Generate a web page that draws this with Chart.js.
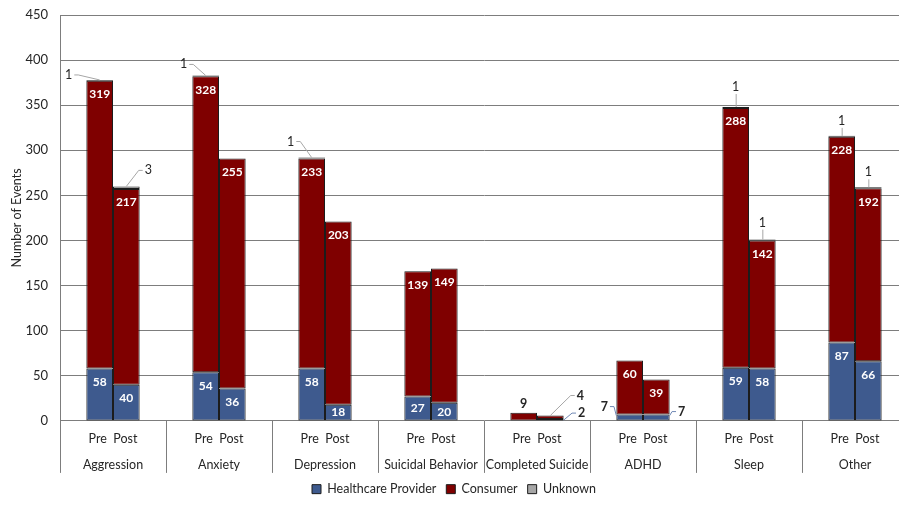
<!DOCTYPE html>
<html><head><meta charset="utf-8">
<script src="https://cdn.jsdelivr.net/npm/chart.js@4/dist/chart.umd.min.js"></script>
<style>html,body{margin:0;padding:0;background:#fff;overflow:hidden}#wrap{width:910px;height:509px;position:relative}</style>
</head><body><div id="wrap"><canvas id="c"></canvas></div>
<script>
const categories = ['Aggression','Anxiety','Depression','Suicidal Behavior','Completed Suicide','ADHD','Sleep','Other'];
const periods = ['Pre','Post'];
const seriesNames = ['Healthcare Provider','Consumer','Unknown'];
const providerPre  = [58, 54, 58, 27, 0, 7, 59, 87];
const providerPost = [40, 36, 18, 20, 2, 7, 58, 66];
const consumerPre  = [319, 328, 233, 139, 9, 60, 288, 228];
const consumerPost = [217, 255, 203, 149, 4, 39, 142, 192];
const unknownPre   = [1, 1, 1, 0, 0, 0, 1, 1];
const unknownPost  = [3, 0, 0, 0, 0, 0, 1, 1];
const yTickValues  = [0, 50, 100, 150, 200, 250, 300, 350, 400, 450];

const FONT = 'Lato, "Open Sans", sans-serif';
const COLORS = ['#3e5a8e', '#7f0000', '#a6a6a6'];
const GRID = '#7d7d7d';
const TEXT = '#262626';

function mk(si, data, stack) {
  return {
    label: seriesNames[si], series: si,
    data: data.map(v => v === 0 ? null : v),
    backgroundColor: COLORS[si], borderColor: '#1c1c1c', borderWidth: 1,
    borderSkipped: false, stack: stack,
    categoryPercentage: 0.503, barPercentage: 1
  };
}
const datasets = [
  mk(0, providerPre, periods[0]), mk(1, consumerPre, periods[0]), mk(2, unknownPre, periods[0]),
  mk(0, providerPost, periods[1]), mk(1, consumerPost, periods[1]), mk(2, unknownPost, periods[1])
];

// callout label styling (category index, period, series index)
const callouts = [
  {c:0, p:'Pre',  s:2, anchor:'top',   dx:-31, dy:-5,  side:'left'},
  {c:0, p:'Post', s:2, anchor:'top',   dx:22,  dy:-16, side:'right'},
  {c:1, p:'Pre',  s:2, anchor:'top',   dx:-22, dy:-11, side:'left'},
  {c:2, p:'Pre',  s:2, anchor:'top',   dx:-21, dy:-16, side:'left'},
  {c:6, p:'Pre',  s:2, anchor:'top',   dx:0,   dy:-20, side:'top'},
  {c:6, p:'Post', s:2, anchor:'top',   dx:0,   dy:-17, side:'top'},
  {c:7, p:'Pre',  s:2, anchor:'top',   dx:0,   dy:-15, side:'top'},
  {c:7, p:'Post', s:2, anchor:'top',   dx:0,   dy:-15, side:'top'},
  {c:4, p:'Pre',  s:1, anchor:'top',   dx:0,   dy:-9,  side:'none', bold:true},
  {c:4, p:'Post', s:1, anchor:'top',   dx:30,  dy:-20, side:'right', bold:true},
  {c:4, p:'Post', s:0, anchor:'right', dx:18,  dy:-7,  side:'right', bold:true},
  {c:5, p:'Pre',  s:0, anchor:'left',  dx:-12, dy:-9,  side:'left', bold:true},
  {c:5, p:'Post', s:0, anchor:'right', dx:12,  dy:-4,  side:'right', bold:true}
];

const labelPlugin = {
  id: 'barLabels',
  afterDatasetsDraw(chart) {
    const ctx = chart.ctx;
    ctx.save();
    chart.data.datasets.forEach((ds, di) => {
      const meta = chart.getDatasetMeta(di);
      meta.data.forEach((el, i) => {
        const v = ds.data[i];
        if (v == null) return;
        const p = el.getProps(['x','y','base','width'], true);
        const top = Math.min(p.y, p.base), bot = Math.max(p.y, p.base);
        const co = callouts.find(o => o.c === i && o.p === ds.stack && o.s === ds.series);
        if (co) {
          let ax = p.x, ay = top;
          if (co.anchor === 'left') { ax = p.x - p.width/2; ay = top + 1; }
          if (co.anchor === 'right') { ax = p.x + p.width/2; ay = top + 1; }
          const lx = ax + co.dx, ly = ay + co.dy;
          ctx.font = (co.bold ? 'bold ' : '') + '12.5px ' + FONT;
          const tw = ctx.measureText(String(v)).width;
          ctx.strokeStyle = ds.series === 0 ? '#6f88b5' : '#a6a6a6';
          ctx.lineWidth = 1;
          ctx.beginPath();
          if (co.side === 'left') {
            const sx = lx + tw/2 + 2;
            ctx.moveTo(sx, ly); ctx.lineTo(sx + 4, ly); ctx.lineTo(ax, ay);
          } else if (co.side === 'right') {
            const sx = lx - tw/2 - 2;
            ctx.moveTo(sx, ly); ctx.lineTo(sx - 4, ly); ctx.lineTo(ax, ay);
          } else if (co.side === 'top') {
            ctx.moveTo(lx + 0.5, ly + 7); ctx.lineTo(ax + 0.5, ay);
          }
          ctx.stroke();
          ctx.fillStyle = TEXT;
          ctx.textAlign = 'center'; ctx.textBaseline = 'middle';
          ctx.fillText(String(v), lx, ly);
        } else if (ds.series !== 2) {
          const y = Math.min(top + 13.5, (top + bot) / 2);
          ctx.font = 'bold 12px ' + FONT;
          ctx.fillStyle = '#ffffff';
          ctx.textAlign = 'center'; ctx.textBaseline = 'middle';
          ctx.fillText(String(v), p.x, y);
        }
      });
    });
    ctx.restore();
  }
};

const separatorPlugin = {
  id: 'separators',
  afterDraw(chart) {
    const a = chart.chartArea, ctx = chart.ctx;
    const n = categories.length, w = (a.right - a.left) / n;
    ctx.save();
    ctx.strokeStyle = GRID; ctx.lineWidth = 1;
    ctx.beginPath();
    for (let i = 0; i <= n; i++) {
      const x = Math.round(a.left + i * w) + 0.5;
      ctx.moveTo(x, a.bottom); ctx.lineTo(x, a.bottom + 52);
    }
    ctx.stroke();
    ctx.restore();
  }
};

new Chart(document.getElementById('c'), {
  type: 'bar',
  data: { labels: categories, datasets },
  options: {
    responsive: true, maintainAspectRatio: false, animation: false,
    layout: { padding: { top: 15, right: 2, bottom: 3.6, left: 0 } },
    plugins: {
      legend: {
        position: 'bottom',
        labels: {
          filter: (item) => item.datasetIndex < 3,
          boxWidth: 9, boxHeight: 9, padding: 10, color: TEXT,
          font: { family: FONT, size: 12.5 }
        }
      },
      tooltip: { enabled: false }
    },
    scales: {
      x: {
        stacked: true,
        grid: { display: false, drawTicks: false }, border: { display: false },
        ticks: { autoSkip: false, maxRotation: 0, padding: 10.5, color: TEXT,
                 font: { family: FONT, size: 12.5, lineHeight: 1.2 },
                 callback: () => periods[0] + '  ' + periods[1] },
        afterFit: (s) => { s.height = 25.5; }
      },
      x2: {
        type: 'category', position: 'bottom', labels: categories, offset: true,
        grid: { display: false, drawTicks: false }, border: { display: false },
        ticks: { autoSkip: false, maxRotation: 0, padding: 11.5, color: TEXT,
                 font: { family: FONT, size: 12.5, lineHeight: 1.2 } },
        afterFit: (s) => { s.height = 26.5; }
      },
      y: {
        stacked: true, min: 0, max: 450,
        afterBuildTicks: (s) => { s.ticks = yTickValues.map(v => ({ value: v })); },
        grid: { color: GRID, drawTicks: false },
        border: { display: true, color: GRID },
        ticks: { padding: 12, color: TEXT, font: { family: FONT, size: 13 } },
        title: { display: true, text: 'Number of Events', color: TEXT,
                 font: { family: FONT, size: 12.5 }, padding: { top: 9, bottom: 0 } },
        afterFit: (s) => { s.width = 60; s.paddingTop = 0; s.paddingBottom = 0; }
      }
    }
  },
  plugins: [labelPlugin, separatorPlugin]
});
</script>
</body></html>
